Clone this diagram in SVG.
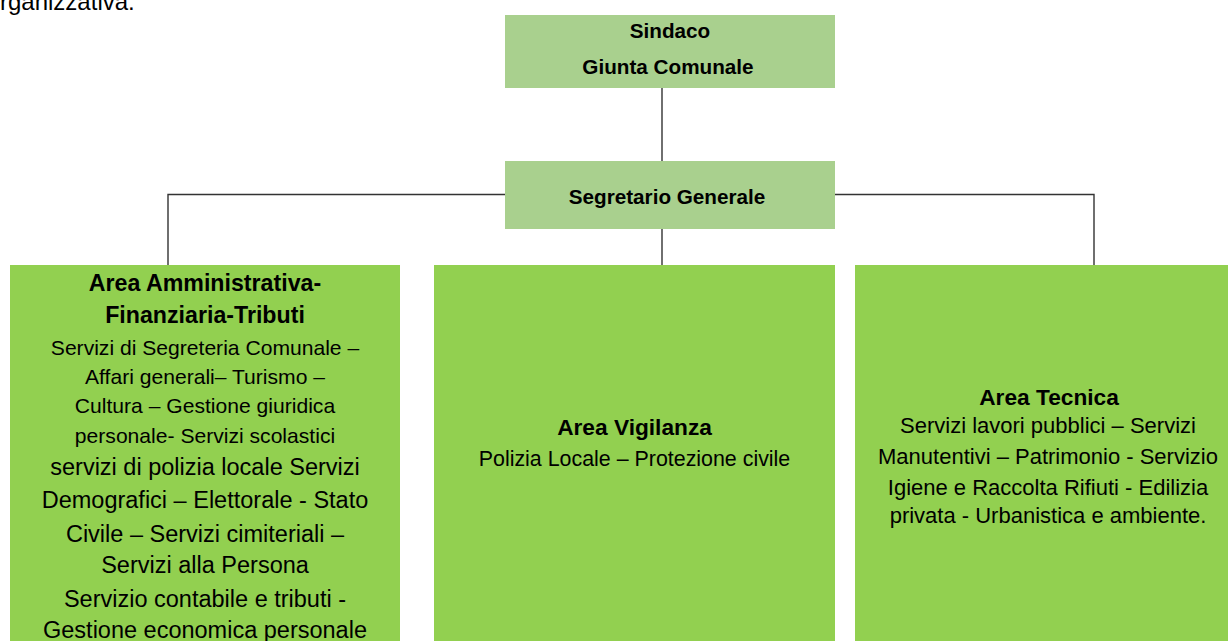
<svg xmlns="http://www.w3.org/2000/svg" width="1228" height="641" viewBox="0 0 1228 641">
<style>
.top{fill:#A9D08E}
.area{fill:#92D050}
.t{font-family:"Liberation Sans",Arial,sans-serif;fill:#000;text-anchor:middle}
.b{font-weight:bold}
.conn{stroke:#333;stroke-width:1.4;fill:none}
</style>
<rect width="1228" height="641" fill="#fff"/>
<text x="0" y="10" font-family="Liberation Sans, Arial, sans-serif" font-size="24" fill="#000">rganizzativa.</text>
<g id="connectors">
<path class="conn" d="M662 88 V265"/>
<path class="conn" d="M168 265 V194.5 H1094 V265"/>
</g>
<g id="sindaco">
<rect class="top" x="505" y="15" width="330" height="73"/>
<text class="t b" x="670" y="38" font-size="20.7">Sindaco</text>
<text class="t b" x="668" y="74" font-size="20.7">Giunta Comunale</text>
</g>
<g id="segretario">
<rect class="top" x="505" y="161" width="330" height="68"/>
<text class="t b" x="667" y="204" font-size="20.7">Segretario Generale</text>
</g>
<g id="area-amministrativa">
<rect class="area" x="10" y="265" width="390" height="380"/>
<text class="t b" x="205" y="291" font-size="23.2">Area Amministrativa-</text>
<text class="t b" x="205" y="323" font-size="23.2">Finanziaria-Tributi</text>
<text class="t" x="205" y="355" font-size="21.1">Servizi di Segreteria Comunale –</text>
<text class="t" x="205" y="384" font-size="21.1">Affari generali– Turismo –</text>
<text class="t" x="205" y="413" font-size="21.1">Cultura – Gestione giuridica</text>
<text class="t" x="205" y="443" font-size="21.1">personale- Servizi scolastici</text>
<text class="t" x="205" y="475" font-size="23.5">servizi di polizia locale Servizi</text>
<text class="t" x="205" y="508" font-size="23.5">Demografici – Elettorale - Stato</text>
<text class="t" x="205" y="542" font-size="23.5">Civile – Servizi cimiteriali –</text>
<text class="t" x="205" y="573" font-size="23.5">Servizi alla Persona</text>
<text class="t" x="205" y="607" font-size="23.5">Servizio contabile e tributi -</text>
<text class="t" x="205" y="638" font-size="23.5">Gestione economica personale</text>
</g>
<g id="area-vigilanza">
<rect class="area" x="434" y="265" width="401" height="380"/>
<text class="t b" x="634.5" y="435" font-size="22.7">Area Vigilanza</text>
<text class="t" x="634.5" y="466" font-size="21.4">Polizia Locale – Protezione civile</text>
</g>
<g id="area-tecnica">
<rect class="area" x="855" y="265" width="386" height="380"/>
<text class="t b" x="1049" y="405" font-size="22.7">Area Tecnica</text>
<text class="t" x="1048" y="433" font-size="22">Servizi lavori pubblici – Servizi</text>
<text class="t" x="1048" y="464" font-size="22">Manutentivi – Patrimonio - Servizio</text>
<text class="t" x="1048" y="495" font-size="22">Igiene e Raccolta Rifiuti - Edilizia</text>
<text class="t" x="1048" y="523" font-size="22">privata - Urbanistica e ambiente.</text>
</g>
</svg>
